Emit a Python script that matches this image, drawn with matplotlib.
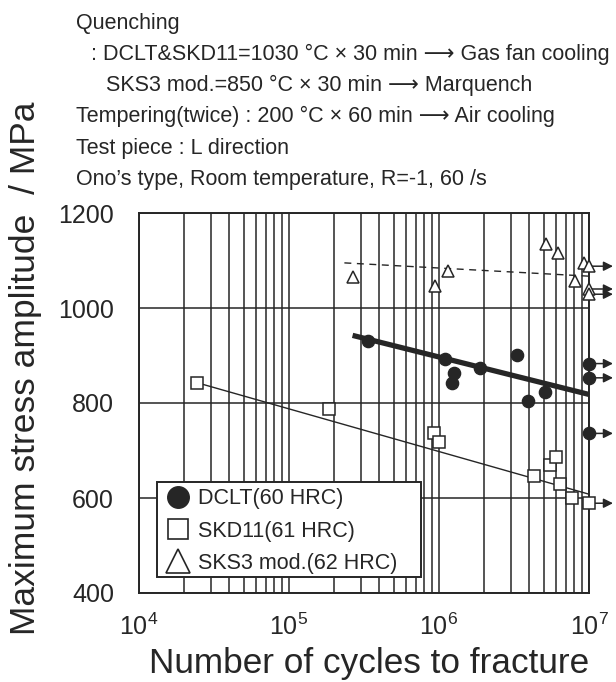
import matplotlib
matplotlib.use("Agg")
import matplotlib.pyplot as plt
from matplotlib.ticker import LogLocator, FixedLocator, NullFormatter
from matplotlib.lines import Line2D
from matplotlib.patches import Rectangle

plt.rcParams['font.family'] = ['Liberation Sans', 'DejaVu Sans']
plt.rcParams['mathtext.fontset'] = 'custom'
plt.rcParams['mathtext.rm'] = 'Liberation Sans'
plt.rcParams['mathtext.it'] = 'Liberation Sans'

# ---------------- data ----------------
dclt_n = [3.38e5, 1.10e6, 1.26e6, 1.22e6, 1.88e6, 3.3e6, 3.9e6, 5.1e6, 1e7, 1e7, 1e7]
dclt_s = [931, 892, 864, 843, 873, 902, 804, 824, 883, 853, 736]
dclt_runout = [False, False, False, False, False, False, False, False, True, True, True]

skd_n = [2.42e4, 1.86e5, 9.2e5, 1.0e6, 4.33e6, 5.5e6, 6.0e6, 6.39e6, 7.66e6, 1e7]
skd_s = [843, 787, 736, 717, 647, 669, 687, 629, 599, 589]
skd_runout = [False, False, False, False, False, False, False, False, False, True]

sks_n = [2.68e5, 9.4e5, 1.14e6, 5.2e6, 6.2e6, 8.07e6, 9.2e6, 1e7, 1e7, 1e7]
sks_s = [1066, 1046, 1078, 1135, 1116, 1056, 1095, 1088, 1040, 1029]
sks_runout = [False, False, False, False, False, False, False, True, True, True]

dclt_fit_n = [2.76e5, 1e7]
dclt_fit_s = [941, 818]
skd_fit_n = [2.42e4, 1e7]
skd_fit_s = [843, 608]
sks_fit_n = [2.34e5, 1e7]
sks_fit_s = [1095, 1067]

legend_labels = ["DCLT(60 HRC)", "SKD11(61 HRC)", "SKS3 mod.(62 HRC)"]
y_ticks = [400, 600, 800, 1000, 1200]

header_lines = [
    "Quenching",
    ": DCLT&SKD11=1030 \u00b0C \u00d7 30 min \u27f6 Gas fan cooling",
    "SKS3 mod.=850 \u00b0C \u00d7 30 min \u27f6 Marquench",
    "Tempering(twice) : 200 \u00b0C \u00d7 60 min \u27f6 Air cooling",
    "Test piece : L direction",
    "Ono\u2019s type, Room temperature, R=-1, 60 /s",
]

# ---------------- figure ----------------
W, H = 616, 682
fig = plt.figure(figsize=(W / 100, H / 100), dpi=100)
ax = fig.add_axes([139 / W, 1 - 593 / H, 450 / W, 380 / H])

ink = '#262626'
ax.set_xscale('log')
ax.set_xlim(1e4, 1e7)
ax.set_ylim(400, 1200)
ax.xaxis.set_major_locator(LogLocator(base=10, numticks=10))
ax.xaxis.set_minor_locator(LogLocator(base=10, subs=range(2, 10), numticks=20))
ax.xaxis.set_minor_formatter(NullFormatter())
ax.yaxis.set_major_locator(FixedLocator(y_ticks))
ax.grid(True, which='both', axis='x', color=ink, lw=1.1)
ax.grid(True, which='major', axis='y', color=ink, lw=1.1)
ax.set_axisbelow(True)
ax.tick_params(which='both', length=0)
ax.tick_params(axis='x', labelsize=18, pad=15, colors=ink)
ax.tick_params(axis='y', labelsize=18, pad=18, colors=ink)
for sp in ax.spines.values():
    sp.set_color(ink)
    sp.set_linewidth(1.4)

ax.set_xlabel("Number of cycles to fracture", fontsize=25.3, color=ink)
ax.xaxis.set_label_coords((369 - 139) / 450, (593 - 647) / 380)
ax.set_ylabel("Maximum stress amplitude  / MPa", fontsize=25.5, color=ink)
ax.yaxis.set_label_coords((42 - 139) / 450, (593 - 368) / 380)

# fit lines
ax.plot(sks_fit_n, sks_fit_s, color=ink, lw=1.0, ls=(0, (5, 4)), zorder=3)
ax.plot(dclt_fit_n, dclt_fit_s, color=ink, lw=3.8, zorder=3)
ax.plot(skd_fit_n, skd_fit_s, color=ink, lw=1.0, zorder=3)

# markers
ax.plot(dclt_n, dclt_s, 'o', ms=8.8, mfc=ink, mec=ink, mew=1.0, ls='none', zorder=4, clip_on=False)
ax.plot(skd_n, skd_s, 's', ms=8.0, mfc='white', mec=ink, mew=1.1, ls='none', zorder=4, clip_on=False)
ax.plot(sks_n, sks_s, '^', ms=8.8, mfc='white', mec=ink, mew=1.1, ls='none', zorder=4, clip_on=False)

# run-out arrows (points that did not fail at 1e7 cycles)
for ns, ss, rs in [(dclt_n, dclt_s, dclt_runout), (skd_n, skd_s, skd_runout), (sks_n, sks_s, sks_runout)]:
    for n, s, r in zip(ns, ss, rs):
        if r:
            ax.annotate('', xy=(n * 10 ** (24 / 150), s), xytext=(n, s),
                        xycoords='data', textcoords='data', annotation_clip=False,
                        arrowprops=dict(arrowstyle='-|>', color=ink, lw=1.1,
                                        mutation_scale=14, shrinkA=0, shrinkB=0))

# legend (frame drawn as a rectangle to reproduce the reference's padding)
frame = Rectangle(((157 - 139) / 450, (593 - 577) / 380), (421 - 157) / 450, (577 - 482) / 380,
                  transform=ax.transAxes, facecolor='white', edgecolor=ink, lw=1.4, zorder=5)
ax.add_patch(frame)
handles = [
    Line2D([], [], marker='o', ls='none', ms=15.5, mfc=ink, mec=ink, mew=1.0),
    Line2D([], [], marker='s', ls='none', ms=14.5, mfc='white', mec=ink, mew=1.2),
    Line2D([], [], marker='^', ls='none', ms=17.0, mfc='white', mec=ink, mew=1.2),
]
leg = ax.legend(handles, legend_labels, loc='center left',
                bbox_to_anchor=((161 - 139) / 450, (593 - 531) / 380),
                fontsize=15.5, frameon=False, borderpad=0.3, labelspacing=0.52,
                handlelength=1.0, handletextpad=0.42, borderaxespad=0)
leg.set_zorder(6)
for t in leg.get_texts():
    t.set_color(ink)

# header text
x_starts = [76, 91, 106, 76, 76, 76]
for i, (line, x0) in enumerate(zip(header_lines, x_starts)):
    yb = 28.5 + 31.3 * i
    fig.text(x0 / W, 1 - yb / H, line, fontsize=15.5, color=ink, ha='left', va='baseline')

fig.savefig("out.png", dpi=100)
